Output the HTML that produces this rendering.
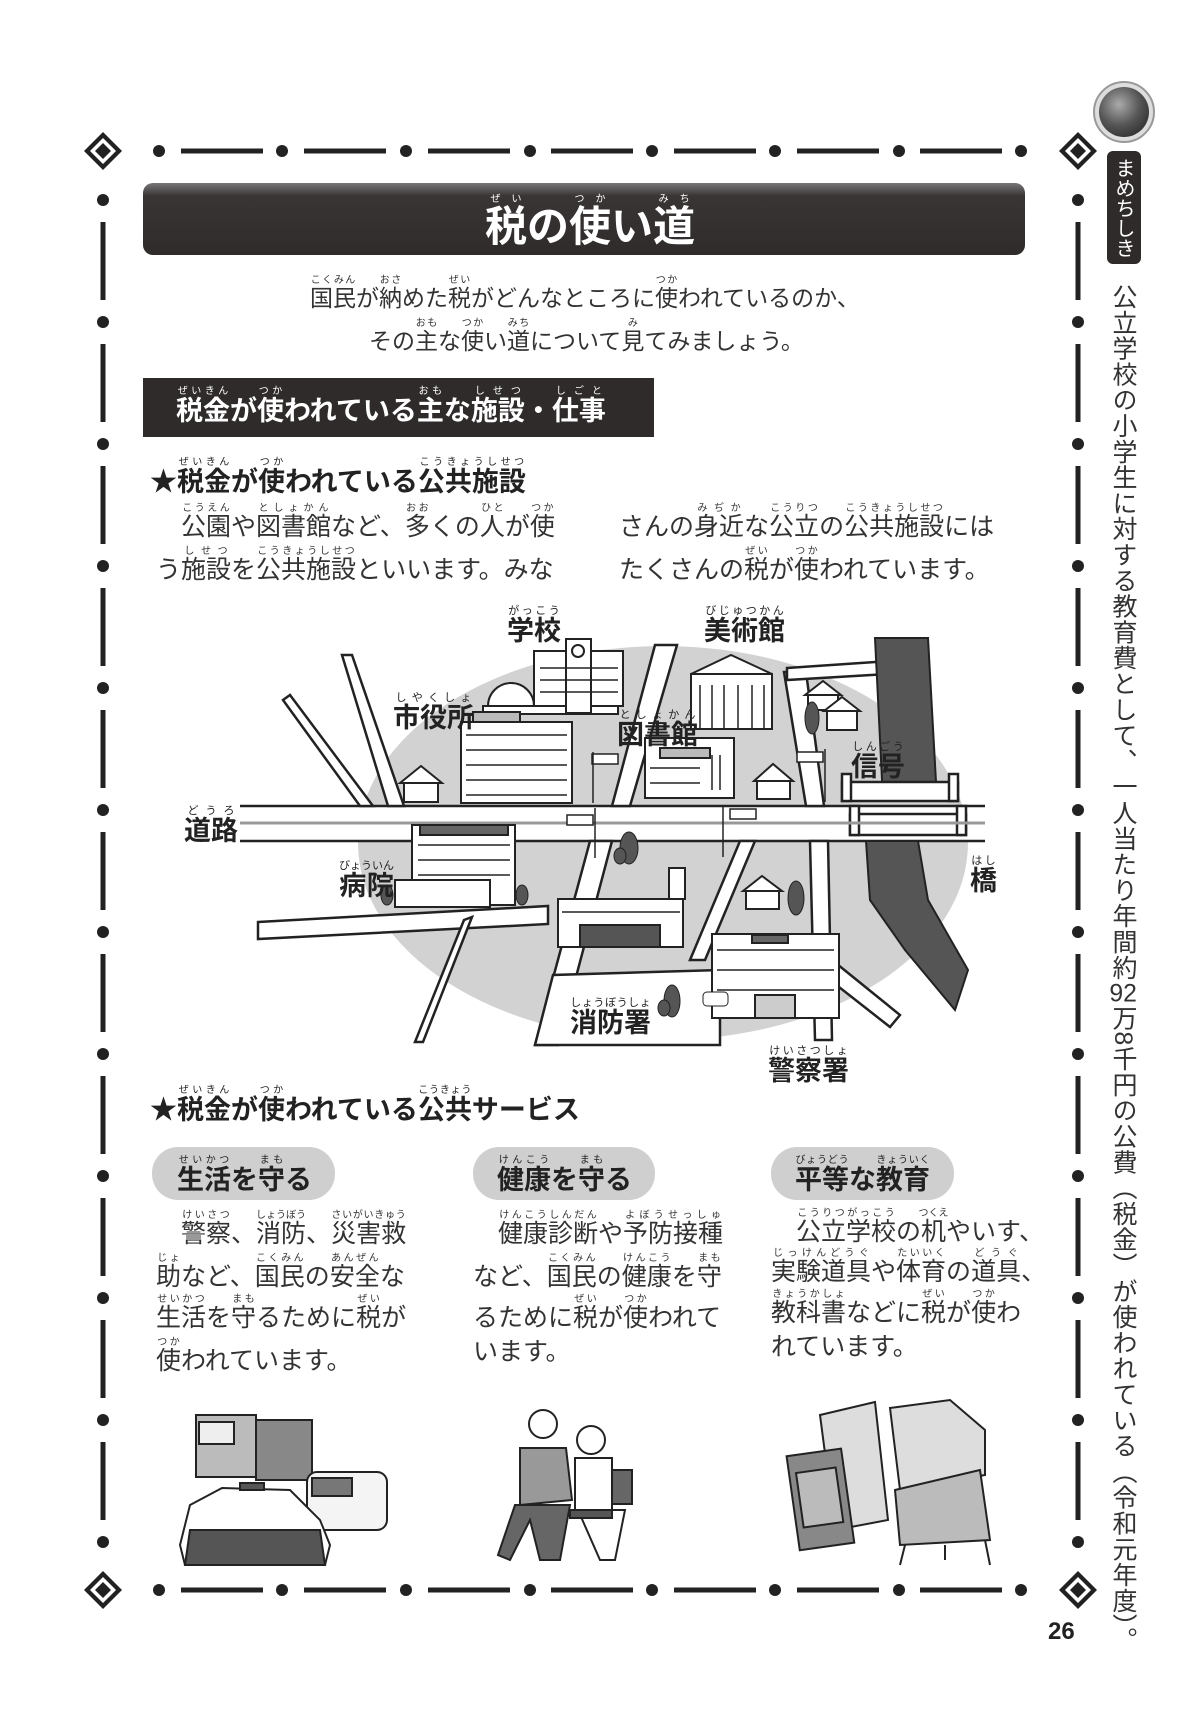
<!DOCTYPE html>
<html><head><meta charset="utf-8">
<style>
html,body{margin:0;padding:0;background:#fff;}
body{width:1185px;height:1733px;position:relative;overflow:hidden;font-family:"Liberation Sans","Noto Sans CJK JP",sans-serif;color:#222;}
.t{position:absolute;white-space:nowrap;line-height:1;}
rt{font-size:10px;font-weight:normal;}
.b{font-weight:bold;}
.p{font-size:25px;color:#333;}
.lab{font-size:27px;font-weight:bold;color:#222;}
.lab rt{font-size:11px;}
</style></head><body>
<svg width="1185" height="1733" style="position:absolute;left:0;top:0" xmlns="http://www.w3.org/2000/svg">
<defs>
<linearGradient id="tg" x1="0" y1="0" x2="0" y2="1"><stop offset="0" stop-color="#777"/><stop offset="0.18" stop-color="#3a3535"/><stop offset="1" stop-color="#2f2b2b"/></linearGradient>
<radialGradient id="cg" cx="0.4" cy="0.35" r="0.7"><stop offset="0" stop-color="#aaa"/><stop offset="0.6" stop-color="#555"/><stop offset="1" stop-color="#333"/></radialGradient>
<g id="dm"><path d="M0,-19 L19,0 L0,19 L-19,0Z" fill="#222"/><path d="M0,-13 L13,0 L0,13 L-13,0Z" fill="#fff"/><path d="M0,-8 L8,0 L0,8 L-8,0Z" fill="#222"/></g>
</defs>
<g fill="#222">
<use href="#dm" x="103" y="151"/><use href="#dm" x="1078" y="151"/><use href="#dm" x="103" y="1590"/><use href="#dm" x="1078" y="1590"/>
<g id="hl">
<circle cx="159" cy="151" r="6"/><rect x="181" y="148.5" width="82" height="5"/>
<circle cx="282" cy="151" r="6"/><rect x="304" y="148.5" width="82" height="5"/>
<circle cx="406" cy="151" r="6"/><rect x="428" y="148.5" width="82" height="5"/>
<circle cx="530" cy="151" r="6"/><rect x="551" y="148.5" width="82" height="5"/>
<circle cx="652" cy="151" r="6"/><rect x="674" y="148.5" width="82" height="5"/>
<circle cx="775" cy="151" r="6"/><rect x="797" y="148.5" width="82" height="5"/>
<circle cx="899" cy="151" r="6"/><rect x="920" y="148.5" width="82" height="5"/>
<circle cx="1021" cy="151" r="6"/>
</g>
<use href="#hl" y="1439"/>
<g id="vl">
<circle cx="103" cy="200" r="6"/><rect x="100.5" y="222" width="5" height="78"/>
<circle cx="103" cy="322" r="6"/><rect x="100.5" y="344" width="5" height="78"/>
<circle cx="103" cy="444" r="6"/><rect x="100.5" y="466" width="5" height="78"/>
<circle cx="103" cy="566" r="6"/><rect x="100.5" y="588" width="5" height="78"/>
<circle cx="103" cy="688" r="6"/><rect x="100.5" y="710" width="5" height="78"/>
<circle cx="103" cy="810" r="6"/><rect x="100.5" y="832" width="5" height="78"/>
<circle cx="103" cy="932" r="6"/><rect x="100.5" y="954" width="5" height="78"/>
<circle cx="103" cy="1054" r="6"/><rect x="100.5" y="1076" width="5" height="78"/>
<circle cx="103" cy="1176" r="6"/><rect x="100.5" y="1198" width="5" height="78"/>
<circle cx="103" cy="1298" r="6"/><rect x="100.5" y="1320" width="5" height="78"/>
<circle cx="103" cy="1420" r="6"/><rect x="100.5" y="1442" width="5" height="78"/>
<circle cx="103" cy="1542" r="6"/>
</g>
<use href="#vl" x="975"/>
</g>
<rect x="143" y="183" width="882" height="72" rx="10" fill="url(#tg)"/>
<rect x="143" y="378" width="511" height="59" fill="#2f2b2b"/>
<circle cx="1124" cy="112" r="30" fill="#ddd" stroke="#999" stroke-width="2"/>
<circle cx="1124" cy="112" r="25" fill="url(#cg)"/>
<rect x="1107" y="151" width="34" height="113" rx="6" fill="#2f2b2b"/>
<rect x="152" y="1147" width="183" height="53" rx="26" fill="#cfcfcf"/>
<rect x="473" y="1147" width="182" height="53" rx="26" fill="#cfcfcf"/>
<rect x="771" y="1147" width="183" height="53" rx="26" fill="#cfcfcf"/>

<ellipse cx="663" cy="843" rx="305" ry="197" fill="#d2d2d2"/>
<g fill="#fff" stroke="#222" stroke-width="2.5">
<rect x="240" y="806" width="745" height="35" stroke="none"/>
<line x1="240" y1="806" x2="985" y2="806"/><line x1="240" y1="841" x2="985" y2="841"/>
<polygon points="342,655 352,655 404,806 388,806" />
<polygon points="283,700 290,695 373,806 360,806"/>
<polygon points="655,645 677,645 630,806 612,806"/>
<polygon points="590,841 612,841 558,1045 535,1045"/>
<polygon points="258,922 548,906 548,924 258,939"/>
<polygon points="535,1045 720,1045 720,970 553,975"/>
<polygon points="740,841 755,841 705,960 690,960"/>
<polygon points="810,841 828,841 832,1040 815,1040"/>
<polygon points="784,672 806,672 824,806 806,806"/>
<polygon points="787,668 905,660 905,673 787,680"/>
<polygon points="832,960 900,1015 890,1027 830,980"/>
<polygon points="464,920 472,917 423,1042 415,1042"/>
</g>
<path d="M875,638 L928,638 L937,800 L883,800Z" fill="#555" stroke="#222" stroke-width="2"/>
<path d="M866,841 L918,841 L928,900 L968,970 L955,1010 L905,950 L870,900Z" fill="#555" stroke="#222" stroke-width="2"/>
<g fill="#fff" stroke="#222" stroke-width="2.5">
<rect x="842" y="782" width="116" height="19"/><rect x="842" y="774" width="9" height="27"/><rect x="949" y="774" width="9" height="27"/>
<rect x="850" y="814" width="116" height="21"/><rect x="850" y="806" width="9" height="29"/><rect x="957" y="806" width="9" height="29"/>
</g>
<line x1="240" y1="823" x2="985" y2="823" stroke="#999" stroke-width="3"/>
<g stroke="#222" stroke-width="2" fill="#fff">
<path d="M488,706 A23,23 0 0 1 534,706Z"/>
<rect x="483" y="706" width="135" height="8"/>
<rect x="534" y="651" width="89" height="55"/>
<rect x="566" y="639" width="25" height="74"/>
<circle cx="578" cy="651" r="6"/>
<rect x="473" y="712" width="47" height="10" fill="#bbb"/>
<rect x="461" y="722" width="111" height="81"/>
<rect x="645" y="738" width="89" height="60"/>
<rect x="660" y="748" width="50" height="10" fill="#bbb"/>
<polygon points="691,674 731,655 772,674"/>
<rect x="691" y="674" width="81" height="55"/>
<rect x="412" y="825" width="103" height="80"/>
<rect x="420" y="825" width="88" height="10" fill="#666"/>
<rect x="395" y="880" width="95" height="27"/>
<rect x="558" y="899" width="125" height="48"/>
<rect x="669" y="868" width="16" height="31"/>
<rect x="580" y="925" width="80" height="22" fill="#555"/>
<rect x="712" y="934" width="127" height="84"/>
<rect x="752" y="935" width="36" height="8" fill="#666"/>
<rect x="755" y="995" width="40" height="23" fill="#ccc"/>
<g>
<polygon points="400,783 421,766 442,783"/><rect x="404" y="783" width="34" height="19"/>
<polygon points="754,781 773,764 793,781"/><rect x="757" y="781" width="33" height="18"/>
<polygon points="805,695 823,681 841,695"/><rect x="808" y="695" width="30" height="15"/>
<polygon points="824,711 842,697 860,711"/><rect x="827" y="711" width="30" height="19"/>
<polygon points="743,891 762,876 782,891"/><rect x="746" y="891" width="33" height="18"/>
</g>
</g>
<g stroke="#222" stroke-width="1.5" fill="none">
<path d="M540,668 H618 M540,680 H618 M540,692 H618"/>
<path d="M466,735 H567 M466,750 H567 M466,765 H567 M466,780 H567 M466,795 H567"/>
<path d="M650,768 H700 M650,783 H700 M712,755 V790 M720,755 V790"/>
<path d="M700,685 V728 M712,685 V728 M724,685 V728 M738,685 V728 M752,685 V728 M764,685 V728"/>
<path d="M418,845 H510 M418,860 H510 M418,875 H510"/>
<path d="M562,912 H680"/>
<path d="M717,950 H834 M717,970 H834 M717,990 H834"/>
</g>
<g fill="#555" stroke="#222">
<ellipse cx="629" cy="848" rx="9" ry="16"/><ellipse cx="620" cy="856" rx="6" ry="8"/>
<ellipse cx="796" cy="898" rx="8" ry="17"/>
<ellipse cx="672" cy="1001" rx="8" ry="16"/><ellipse cx="664" cy="1008" rx="6" ry="8"/>
<ellipse cx="812" cy="718" rx="7" ry="16"/>
<ellipse cx="387" cy="895" rx="6" ry="10"/><ellipse cx="522" cy="895" rx="6" ry="10"/>
<rect x="703" y="992" width="25" height="14" rx="4" fill="#fff"/>
</g>
<g fill="#fff" stroke="#222" stroke-width="1.5">
<rect x="592" y="754" width="26" height="10"/><line x1="593" y1="752" x2="593" y2="803"/>
<rect x="567" y="815" width="26" height="10"/><line x1="595" y1="808" x2="595" y2="858"/>
<rect x="730" y="809" width="26" height="10"/><line x1="723" y1="805" x2="723" y2="857"/>
<rect x="797" y="752" width="26" height="10"/><line x1="825" y1="749" x2="825" y2="802"/>
</g>

<g stroke="#222" stroke-width="2">
<rect x="196" y="1415" width="60" height="62" fill="#bbb"/>
<rect x="256" y="1420" width="56" height="60" fill="#888"/>
<rect x="199" y="1422" width="35" height="22" fill="#eee"/>
<rect x="307" y="1472" width="80" height="58" rx="10" fill="#f4f4f4"/>
<rect x="312" y="1478" width="40" height="18" fill="#777"/>
<path d="M180,1545 L190,1505 L222,1488 L290,1490 L320,1520 L330,1545 L325,1565 L185,1565Z" fill="#fff"/>
<path d="M190,1530 L320,1530 L325,1565 L185,1565Z" fill="#555"/>
<rect x="240" y="1483" width="24" height="7" fill="#555"/>
<circle cx="543" cy="1424" r="14" fill="#fff"/>
<path d="M520,1448 L566,1448 L572,1500 L520,1505Z" fill="#999"/>
<path d="M515,1505 L570,1505 L560,1560 L540,1560 L530,1520 L510,1560 L498,1555Z" fill="#666"/>
<circle cx="591" cy="1440" r="14" fill="#fff"/>
<path d="M575,1458 L612,1458 L612,1510 L575,1510Z" fill="#fff"/>
<path d="M578,1510 L625,1510 L615,1560 L600,1560Z" fill="#fff"/>
<rect x="612" y="1470" width="20" height="34" fill="#666"/>
<rect x="570" y="1510" width="42" height="8" fill="#555"/>
<path d="M820,1415 L875,1402 L888,1520 L835,1530Z" fill="#ddd"/>
<rect x="793" y="1452" width="55" height="95" fill="#888" transform="rotate(-8 820 1500)"/>
<rect x="800" y="1470" width="40" height="55" fill="#bbb" transform="rotate(-8 820 1500)"/>
<path d="M890,1408 L950,1400 L985,1430 L985,1475 L900,1490Z" fill="#ddd"/>
<path d="M895,1490 L980,1470 L990,1540 L900,1545Z" fill="#bbb"/>
<path d="M905,1545 L900,1565 M985,1540 L990,1565 M945,1545 L945,1560" fill="none"/>
</g>
</svg>

<div class="t b" style="left:485px;top:194px;font-size:42px;color:#fff;"><ruby>税<rt>ぜい</rt></ruby>の<ruby>使<rt>つか</rt></ruby>い<ruby>道<rt>みち</rt></ruby></div>
<div class="t" style="left:310px;top:275px;font-size:23px;color:#333;"><ruby>国民<rt>こくみん</rt></ruby>が<ruby>納<rt>おさ</rt></ruby>めた<ruby>税<rt>ぜい</rt></ruby>がどんなところに<ruby>使<rt>つか</rt></ruby>われているのか、</div>
<div class="t" style="left:369px;top:318px;font-size:23px;color:#333;">その<ruby>主<rt>おも</rt></ruby>な<ruby>使<rt>つか</rt></ruby>い<ruby>道<rt>みち</rt></ruby>について<ruby>見<rt>み</rt></ruby>てみましょう。</div>
<div class="t b" style="left:176px;top:386px;font-size:27px;color:#fff;"><ruby>税金<rt>ぜいきん</rt></ruby>が<ruby>使<rt>つか</rt></ruby>われている<ruby>主<rt>おも</rt></ruby>な<ruby>施設<rt>しせつ</rt></ruby>・<ruby>仕事<rt>しごと</rt></ruby></div>
<div class="t b" style="left:150px;top:457px;font-size:27px;color:#222;">★<ruby>税金<rt>ぜいきん</rt></ruby>が<ruby>使<rt>つか</rt></ruby>われている<ruby>公共施設<rt>こうきょうしせつ</rt></ruby></div>
<div class="t p" style="left:181px;top:503px;"><ruby>公園<rt>こうえん</rt></ruby>や<ruby>図書館<rt>としょかん</rt></ruby>など、<ruby>多<rt>おお</rt></ruby>くの<ruby>人<rt>ひと</rt></ruby>が<ruby>使<rt>つか</rt></ruby></div>
<div class="t p" style="left:156px;top:546px;">う<ruby>施設<rt>しせつ</rt></ruby>を<ruby>公共施設<rt>こうきょうしせつ</rt></ruby>といいます。みな</div>
<div class="t p" style="left:619px;top:503px;">さんの<ruby>身近<rt>みぢか</rt></ruby>な<ruby>公立<rt>こうりつ</rt></ruby>の<ruby>公共施設<rt>こうきょうしせつ</rt></ruby>には</div>
<div class="t p" style="left:619px;top:546px;">たくさんの<ruby>税<rt>ぜい</rt></ruby>が<ruby>使<rt>つか</rt></ruby>われています。</div>

<div class="t lab" style="left:507px;top:605px;"><ruby>学校<rt>がっこう</rt></ruby></div>
<div class="t lab" style="left:704px;top:605px;"><ruby>美術館<rt>びじゅつかん</rt></ruby></div>
<div class="t lab" style="left:393px;top:692px;"><ruby>市役所<rt>しやくしょ</rt></ruby></div>
<div class="t lab" style="left:617px;top:709px;"><ruby>図書館<rt>としょかん</rt></ruby></div>
<div class="t lab" style="left:851px;top:741px;"><ruby>信号<rt>しんごう</rt></ruby></div>
<div class="t lab" style="left:184px;top:805px;"><ruby>道路<rt>どうろ</rt></ruby></div>
<div class="t lab" style="left:339px;top:860px;"><ruby>病院<rt>びょういん</rt></ruby></div>
<div class="t lab" style="left:970px;top:855px;"><ruby>橋<rt>はし</rt></ruby></div>
<div class="t lab" style="left:570px;top:997px;"><ruby>消防署<rt>しょうぼうしょ</rt></ruby></div>
<div class="t lab" style="left:768px;top:1045px;"><ruby>警察署<rt>けいさつしょ</rt></ruby></div>

<div class="t b" style="left:150px;top:1085px;font-size:27px;color:#222;">★<ruby>税金<rt>ぜいきん</rt></ruby>が<ruby>使<rt>つか</rt></ruby>われている<ruby>公共<rt>こうきょう</rt></ruby>サービス</div>
<div class="t b" style="left:177px;top:1155px;font-size:27px;"><ruby>生活<rt>せいかつ</rt></ruby>を<ruby>守<rt>まも</rt></ruby>る</div>
<div class="t b" style="left:497px;top:1155px;font-size:27px;"><ruby>健康<rt>けんこう</rt></ruby>を<ruby>守<rt>まも</rt></ruby>る</div>
<div class="t b" style="left:795px;top:1155px;font-size:27px;"><ruby>平等<rt>びょうどう</rt></ruby>な<ruby>教育<rt>きょういく</rt></ruby></div>

<div class="t p" style="left:181px;top:1210px;"><ruby>警察<rt>けいさつ</rt></ruby>、<ruby>消防<rt>しょうぼう</rt></ruby>、<ruby>災害救<rt>さいがいきゅう</rt></ruby></div>
<div class="t p" style="left:156px;top:1253px;"><ruby>助<rt>じょ</rt></ruby>など、<ruby>国民<rt>こくみん</rt></ruby>の<ruby>安全<rt>あんぜん</rt></ruby>な</div>
<div class="t p" style="left:156px;top:1294px;"><ruby>生活<rt>せいかつ</rt></ruby>を<ruby>守<rt>まも</rt></ruby>るために<ruby>税<rt>ぜい</rt></ruby>が</div>
<div class="t p" style="left:156px;top:1337px;"><ruby>使<rt>つか</rt></ruby>われています。</div>

<div class="t p" style="left:498px;top:1210px;"><ruby>健康診断<rt>けんこうしんだん</rt></ruby>や<ruby>予防接種<rt>よぼうせっしゅ</rt></ruby></div>
<div class="t p" style="left:473px;top:1253px;">など、<ruby>国民<rt>こくみん</rt></ruby>の<ruby>健康<rt>けんこう</rt></ruby>を<ruby>守<rt>まも</rt></ruby></div>
<div class="t p" style="left:473px;top:1294px;">るために<ruby>税<rt>ぜい</rt></ruby>が<ruby>使<rt>つか</rt></ruby>われて</div>
<div class="t p" style="left:473px;top:1340px;">います。</div>

<div class="t p" style="left:796px;top:1208px;"><ruby>公立学校<rt>こうりつがっこう</rt></ruby>の<ruby>机<rt>つくえ</rt></ruby>やいす、</div>
<div class="t p" style="left:771px;top:1248px;"><ruby>実験道具<rt>じっけんどうぐ</rt></ruby>や<ruby>体育<rt>たいいく</rt></ruby>の<ruby>道具<rt>どうぐ</rt></ruby>、</div>
<div class="t p" style="left:771px;top:1289px;"><ruby>教科書<rt>きょうかしょ</rt></ruby>などに<ruby>税<rt>ぜい</rt></ruby>が<ruby>使<rt>つか</rt></ruby>わ</div>
<div class="t p" style="left:771px;top:1335px;">れています。</div>

<div class="t b" style="left:1048px;top:1620px;font-size:24px;color:#222;">26</div>

<div class="t" style="left:1113px;top:158px;font-size:20px;color:#fff;writing-mode:vertical-rl;">まめちしき</div>
<div class="t" style="left:1110px;top:284px;font-size:25px;color:#333;writing-mode:vertical-rl;letter-spacing:0.8px;">公立学校の小学生に対する教育費として、一人当たり年間約<span style="text-combine-upright:all">92</span>万8千円の公費（税金）が使われている（令和元年度）。</div>
</body></html>
